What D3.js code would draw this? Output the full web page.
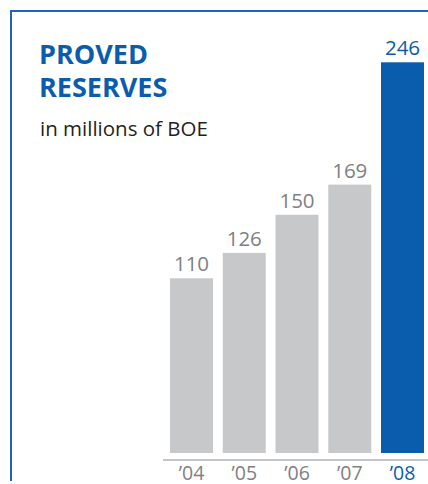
<!DOCTYPE html>
<html>
<head>
<meta charset="utf-8">
<script src="https://cdn.jsdelivr.net/npm/d3@7"></script>
<style>
	body { margin: 0; background: #fff; }
	svg { display: block; font-family: "Open Sans", "Noto Sans", sans-serif; }
</style>
</head>
<body>
<svg id="chart" width="428" height="484"></svg>
<script>
var years = ["’04", "’05", "’06", "’07", "’08"];
var reserves = [110, 126, 150, 169, 246];
var highlight = "’08";

var blue = "#0a5cad";
var grey_bar = "#c7c8ca";
var grey_text = "#7f8083";

var svg = d3.select("#chart");

// frame, top and left only
svg.append("path")
	.attr("d", "M11,481V11H428")
	.attr("fill", "none")
	.attr("stroke", "#1b67b9")
	.attr("stroke-width", 2);

// title
svg.append("text")
	.attr("x", 39).attr("y", 64)
	.attr("fill", blue)
	.attr("font-size", 27)
	.attr("font-weight", "bold")
	.text("PROVED");
svg.append("text")
	.attr("x", 39).attr("y", 97)
	.attr("fill", blue)
	.attr("font-size", 27)
	.attr("font-weight", "bold")
	.text("RESERVES");
svg.append("text")
	.attr("x", 40).attr("y", 136)
	.attr("fill", "#231f20")
	.attr("font-size", 20.5)
	.text("in millions of BOE");

var x = d3.scaleBand()
	.domain(years)
	.range([170, 424])
	.paddingInner(0.185)
	.paddingOuter(0);

var y = d3.scaleLinear()
	.domain([0, 246])
	.range([453, 62.3]);

var data = years.map(function(yr, i){
	return {year: yr, value: reserves[i]};
});

svg.selectAll(".bar")
	.data(data)
	.enter().append("rect")
	.attr("class", "bar")
	.attr("x", function(d){ return x(d.year); })
	.attr("y", function(d){ return y(d.value); })
	.attr("width", x.bandwidth())
	.attr("height", function(d){ return y(0) - y(d.value); })
	.attr("fill", function(d){ return d.year == highlight ? blue : grey_bar; });

svg.selectAll(".val")
	.data(data)
	.enter().append("text")
	.attr("class", "val")
	.attr("x", function(d){ return x(d.year) + x.bandwidth() / 2; })
	.attr("y", function(d){ return y(d.value) - 7; })
	.attr("text-anchor", "middle")
	.attr("font-size", 20.5)
	.attr("fill", function(d){ return d.year == highlight ? blue : grey_text; })
	.text(function(d){ return d.value; });

// axis at the bottom
var axis = svg.append("g")
	.attr("transform", "translate(0,460)")
	.call(d3.axisBottom(x).tickSize(0).tickPadding(4));
axis.select(".domain").remove();
axis.append("line")
	.attr("x1", 163).attr("x2", 428)
	.attr("stroke", "#8a8b8e")
	.attr("stroke-width", 1.2);
axis.selectAll(".tick text")
	.attr("font-family", "\"Open Sans\", \"Noto Sans\", sans-serif")
	.attr("font-size", 19.5)
	.attr("dy", "0.8em")
	.attr("fill", function(d){ return d == highlight ? blue : grey_text; });
</script>
</body>
</html>
